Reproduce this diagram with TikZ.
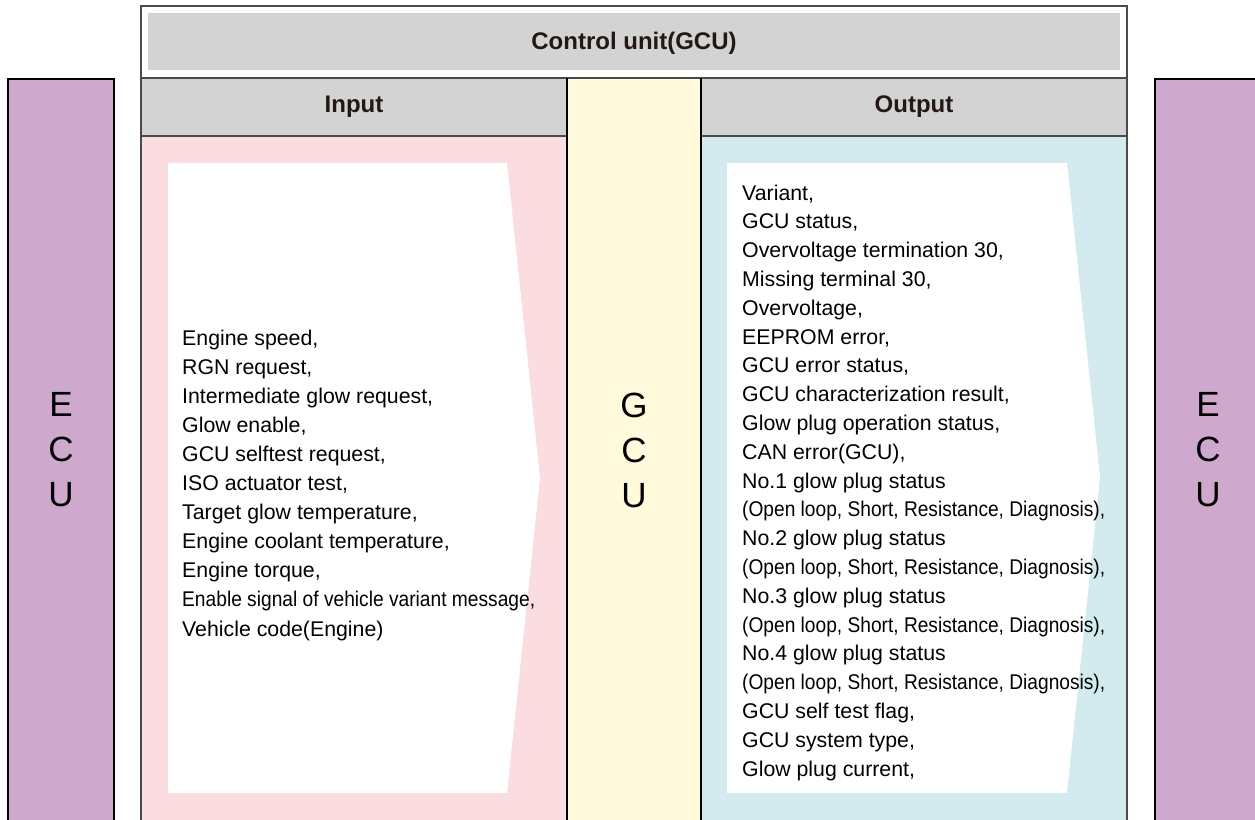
\documentclass[tikz,border=0pt]{standalone}
\usepackage{fontspec}
\setmainfont{Liberation Sans}
\usepackage{graphicx}
\definecolor{ecufill}{HTML}{CEA9CD}
\definecolor{inbg}{HTML}{FADCE1}
\definecolor{gcubg}{HTML}{FFFADC}
\definecolor{outbg}{HTML}{D3EBEF}
\definecolor{headbg}{HTML}{D3D3D3}
\definecolor{frameline}{HTML}{4A4A4A}
\definecolor{headtext}{HTML}{231815}
\newcommand\fitwidth[2]{\resizebox{#1pt}{\height}{#2}}
\tikzset{
  rule/.style={draw=frameline, line width=1.6pt},
  colrule/.style={draw=black, line width=1.6pt},
  headtxt/.style={font=\fontsize{24}{28}\selectfont\bfseries, text=headtext, inner sep=0pt},
  listtxt/.style={font=\fontsize{21.3}{25}\selectfont, text=black, inner sep=0pt, anchor=base west},
  bigletters/.style={font=\fontsize{35}{45}\selectfont, align=center, inner sep=0pt, text=black},
}
\begin{document}
\begin{tikzpicture}[x=1pt, y=-1pt]
\useasboundingbox (0,0) rectangle (1255,819);

% ECU blocks at both sides
\filldraw[fill=ecufill, draw=black, line width=1.6pt] (8,79) rectangle (114,840);
\filldraw[fill=ecufill, draw=black, line width=1.6pt] (1155,79) rectangle (1280,840);

% control unit frame and title bar
\fill[white] (141,6) rectangle (1127,840);
\fill[headbg] (148,13) rectangle (1120,70);

% column backgrounds
\fill[headbg] (141,78) rectangle (567,136);
\fill[headbg] (701,78) rectangle (1127,136);
\fill[inbg] (141,136) rectangle (567,840);
\fill[outbg] (701,136) rectangle (1127,840);
\fill[gcubg] (567,78) rectangle (701,840);

% white arrow-shaped panels
\fill[white] (168,163) -- (507,163) -- (540,478) -- (507,793) -- (168,793) -- cycle;
\fill[white] (727,163) -- (1067,163) -- (1100,477) -- (1067,793) -- (727,793) -- cycle;

% rules
\draw[rule] (141,840) -- (141,6) -- (1127,6) -- (1127,840);
\draw[rule] (141,78) -- (1127,78);
\draw[rule] (141,136) -- (567,136);
\draw[rule] (701,136) -- (1127,136);
\draw[colrule] (567,78) -- (567,840);
\draw[colrule] (701,78) -- (701,840);

% headings
\node[headtxt] (title) at (634,43) {Control unit(GCU)};
\node[headtxt] (inhead) at (354,107) {Input};
\node[headtxt] (outhead) at (914,107) {Output};

% unit labels
\node[bigletters] (ecuL) at (61,450) {E\\C\\U};
\node[bigletters] (gcu) at (634,450) {G\\C\\U};
\node[bigletters] (ecuR) at (1208,450) {E\\C\\U};

% input signals
\foreach \t [count=\i from 0] in {
  {Engine speed,},
  {RGN request,},
  {Intermediate glow request,},
  {Glow enable,},
  {GCU selftest request,},
  {ISO actuator test,},
  {Target glow temperature,},
  {Engine coolant temperature,},
  {Engine torque,},
  {\fitwidth{353}{Enable signal of vehicle variant message,}},
  {Vehicle code(Engine)}}
  \node[listtxt] (in\i) at (182,{345+\i*29.1}) {\t};

% output signals
\foreach \t [count=\i from 0] in {
  {Variant,},
  {GCU status,},
  {Overvoltage termination 30,},
  {Missing terminal 30,},
  {Overvoltage,},
  {EEPROM error,},
  {GCU error status,},
  {GCU characterization result,},
  {Glow plug operation status,},
  {CAN error(GCU),},
  {No.1 glow plug status},
  {\fitwidth{363}{(Open loop, Short, Resistance, Diagnosis),}},
  {No.2 glow plug status},
  {\fitwidth{363}{(Open loop, Short, Resistance, Diagnosis),}},
  {No.3 glow plug status},
  {\fitwidth{363}{(Open loop, Short, Resistance, Diagnosis),}},
  {No.4 glow plug status},
  {\fitwidth{363}{(Open loop, Short, Resistance, Diagnosis),}},
  {GCU self test flag,},
  {GCU system type,},
  {Glow plug current,}}
  \node[listtxt] (out\i) at (742,{200+\i*28.8}) {\t};
\end{tikzpicture}
\end{document}
